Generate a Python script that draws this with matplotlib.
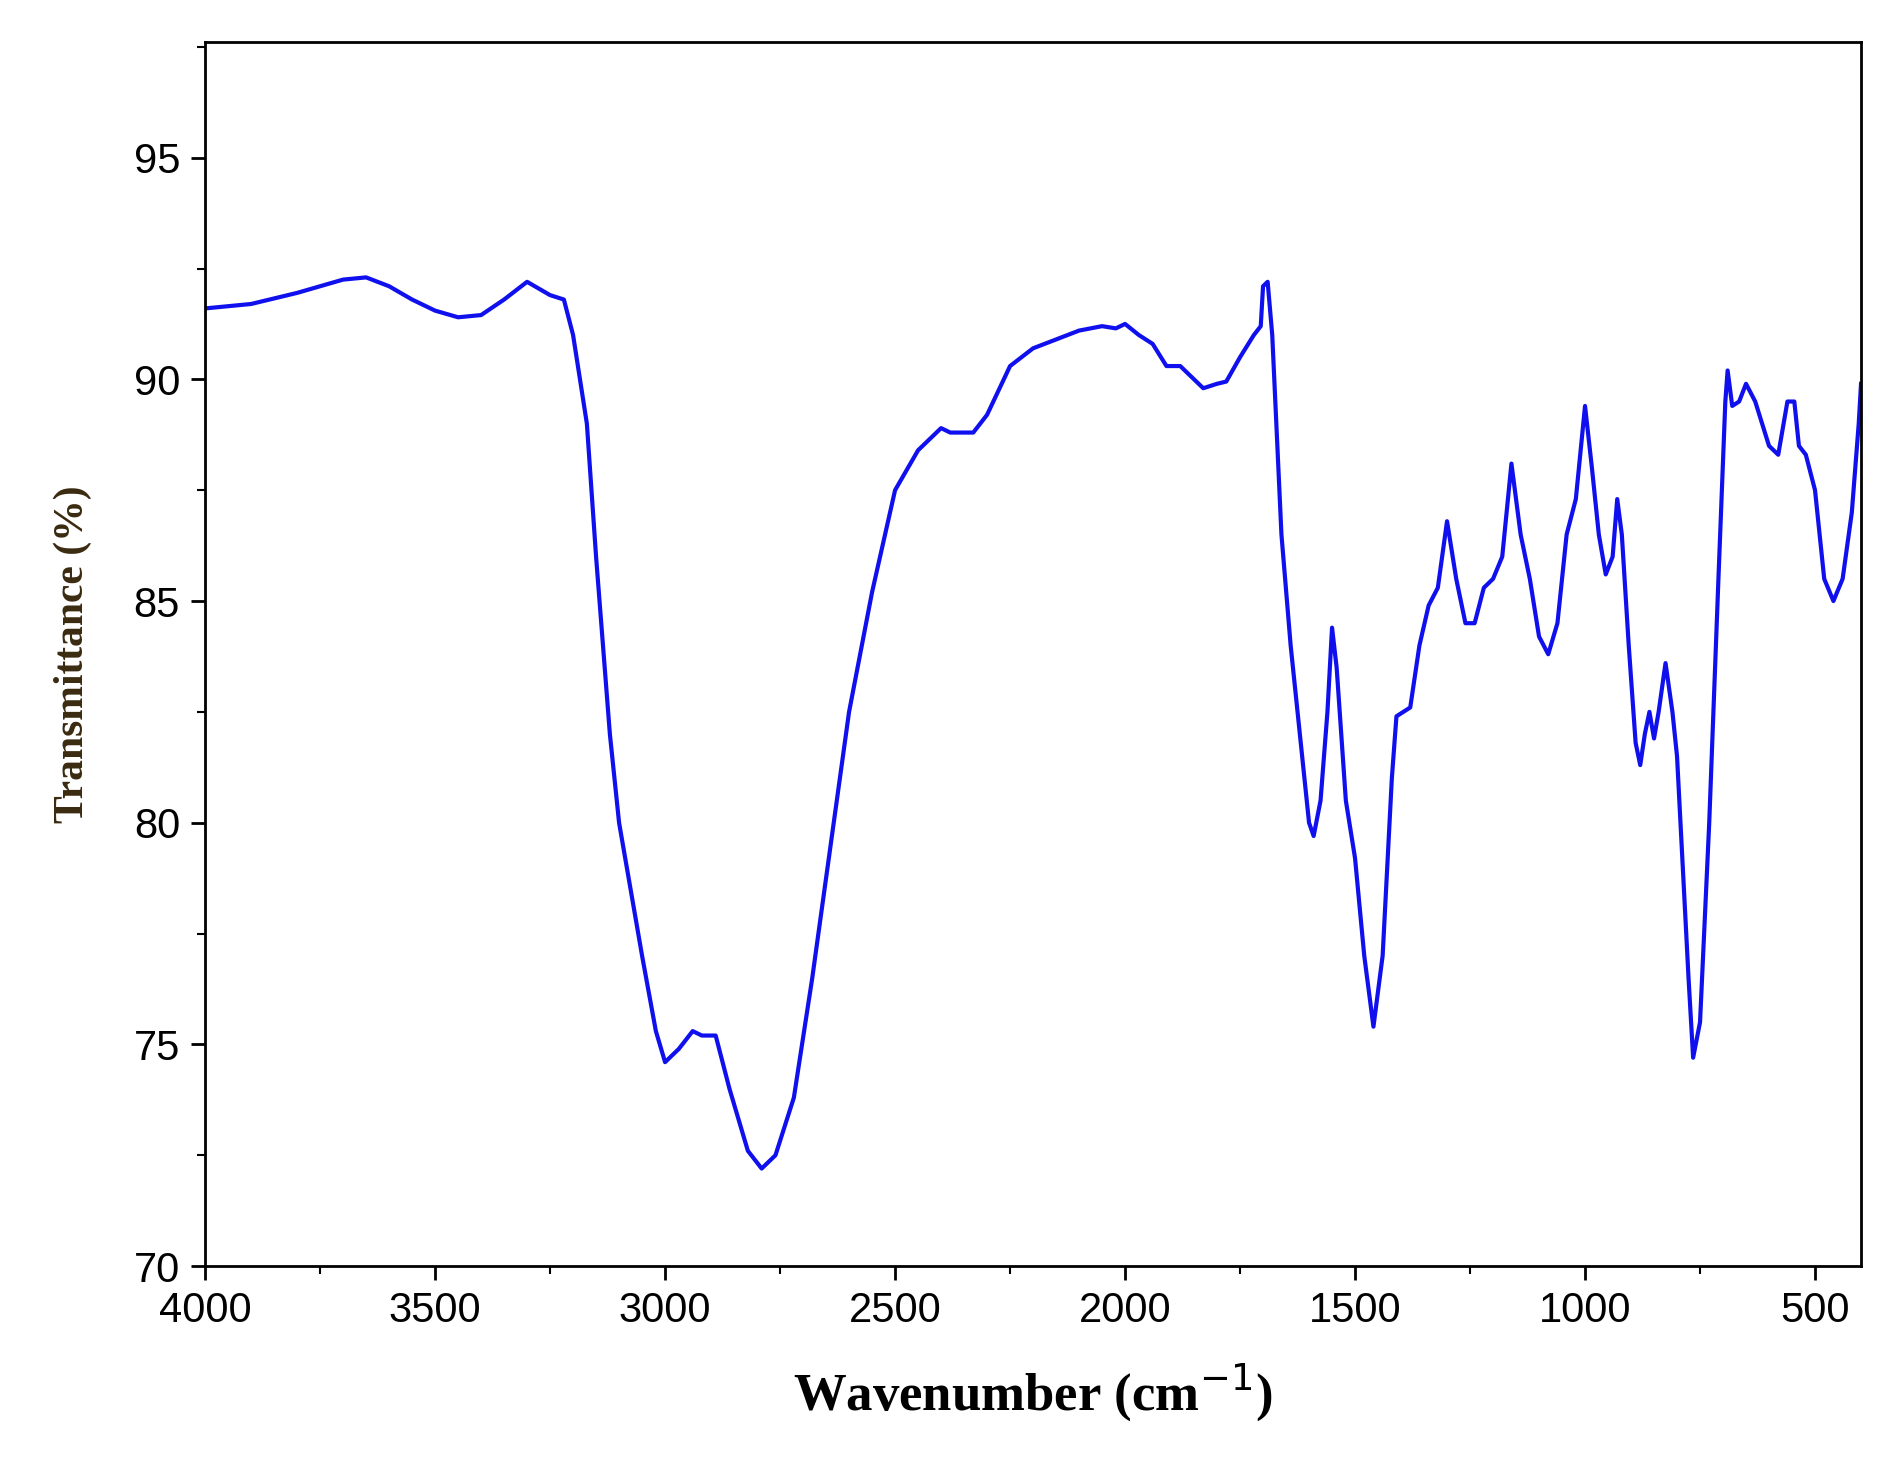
import matplotlib

matplotlib.use("Agg")
import matplotlib.pyplot as plt
from matplotlib.ticker import MultipleLocator

# FTIR spectrum (wavenumber cm-1, transmittance %)
wavenumber = [
    4000, 3900, 3800, 3700, 3650, 3600, 3550, 3500, 3450, 3400, 3350, 3300, 3250, 3220, 3200,
    3170, 3150, 3120, 3100, 3070, 3050, 3020, 3000, 2970, 2940, 2920, 2890, 2860, 2820, 2790,
    2760, 2720, 2680, 2640, 2600, 2550, 2500, 2450, 2400, 2380, 2330, 2300, 2250, 2200, 2150,
    2100, 2050, 2020, 2000, 1970, 1940, 1910, 1880, 1860, 1830, 1800, 1780, 1750, 1720, 1705,
    1700, 1690, 1680, 1660, 1640, 1620, 1600, 1590, 1575, 1560, 1550, 1540, 1520, 1500, 1480,
    1460, 1440, 1420, 1410, 1380, 1360, 1340, 1320, 1300, 1280, 1260, 1240, 1220, 1200, 1180,
    1160, 1140, 1120, 1100, 1080, 1060, 1040, 1020, 1000, 985, 970, 955, 940, 930, 920, 905,
    890, 880, 870, 860, 850, 840, 825, 810, 800, 790, 775, 765, 750, 730, 710, 695, 690, 680,
    665, 650, 630, 600, 580, 560, 545, 535, 520, 500, 480, 460, 440, 420, 405, 400,
]
transmittance = [
    91.6, 91.7, 91.95, 92.25, 92.3, 92.1, 91.8, 91.55, 91.4, 91.45, 91.8, 92.2, 91.9, 91.8, 91.0,
    89.0, 86.0, 82.0, 80.0, 78.2, 77.0, 75.3, 74.6, 74.9, 75.3, 75.2, 75.2, 74.0, 72.6, 72.2,
    72.5, 73.8, 76.5, 79.5, 82.5, 85.2, 87.5, 88.4, 88.9, 88.8, 88.8, 89.2, 90.3, 90.7, 90.9,
    91.1, 91.2, 91.15, 91.25, 91.0, 90.8, 90.3, 90.3, 90.1, 89.8, 89.9, 89.95, 90.5, 91.0, 91.2,
    92.1, 92.2, 91.0, 86.5, 84.0, 82.0, 80.0, 79.7, 80.5, 82.5, 84.4, 83.5, 80.5, 79.2, 77.0,
    75.4, 77.0, 81.0, 82.4, 82.6, 84.0, 84.9, 85.3, 86.8, 85.5, 84.5, 84.5, 85.3, 85.5, 86.0,
    88.1, 86.5, 85.5, 84.2, 83.8, 84.5, 86.5, 87.3, 89.4, 88.0, 86.5, 85.6, 86.0, 87.3, 86.5,
    84.0, 81.8, 81.3, 82.0, 82.5, 81.9, 82.5, 83.6, 82.5, 81.5, 79.5, 76.5, 74.7, 75.5, 80.0,
    85.5, 89.5, 90.2, 89.4, 89.5, 89.9, 89.5, 88.5, 88.3, 89.5, 89.5, 88.5, 88.3, 87.5, 85.5,
    85.0, 85.5, 87.0, 89.0, 89.9,
]

fig = plt.figure(figsize=(18.99, 14.62), dpi=100)
ax = fig.add_axes([0.108, 0.134, 0.872, 0.837])
ax.plot(wavenumber, transmittance, color="#1010ee", lw=3, solid_joinstyle="round")

ax.set_xlim(4000, 400)
ax.set_ylim(70, 97.6)
ax.xaxis.set_major_locator(MultipleLocator(500))
ax.xaxis.set_minor_locator(MultipleLocator(250))
ax.yaxis.set_major_locator(MultipleLocator(5))
ax.yaxis.set_minor_locator(MultipleLocator(2.5))
ax.tick_params(which="major", length=10, width=2, labelsize=30, pad=8)
ax.tick_params(which="minor", length=6, width=1.5)
for lab in ax.get_xticklabels() + ax.get_yticklabels():
    lab.set_fontfamily("Liberation Sans")
for s in ax.spines.values():
    s.set_linewidth(2)

ax.set_xlabel("Wavenumber (cm$^{-1}$)", fontsize=38, fontweight="bold",
              fontfamily="Liberation Serif", labelpad=22)
ax.set_ylabel("Transmittance (%)", fontsize=30, fontweight="bold",
              fontfamily="Liberation Serif", color="#3a2a10", labelpad=30)

fig.savefig("out.png", dpi=100)
